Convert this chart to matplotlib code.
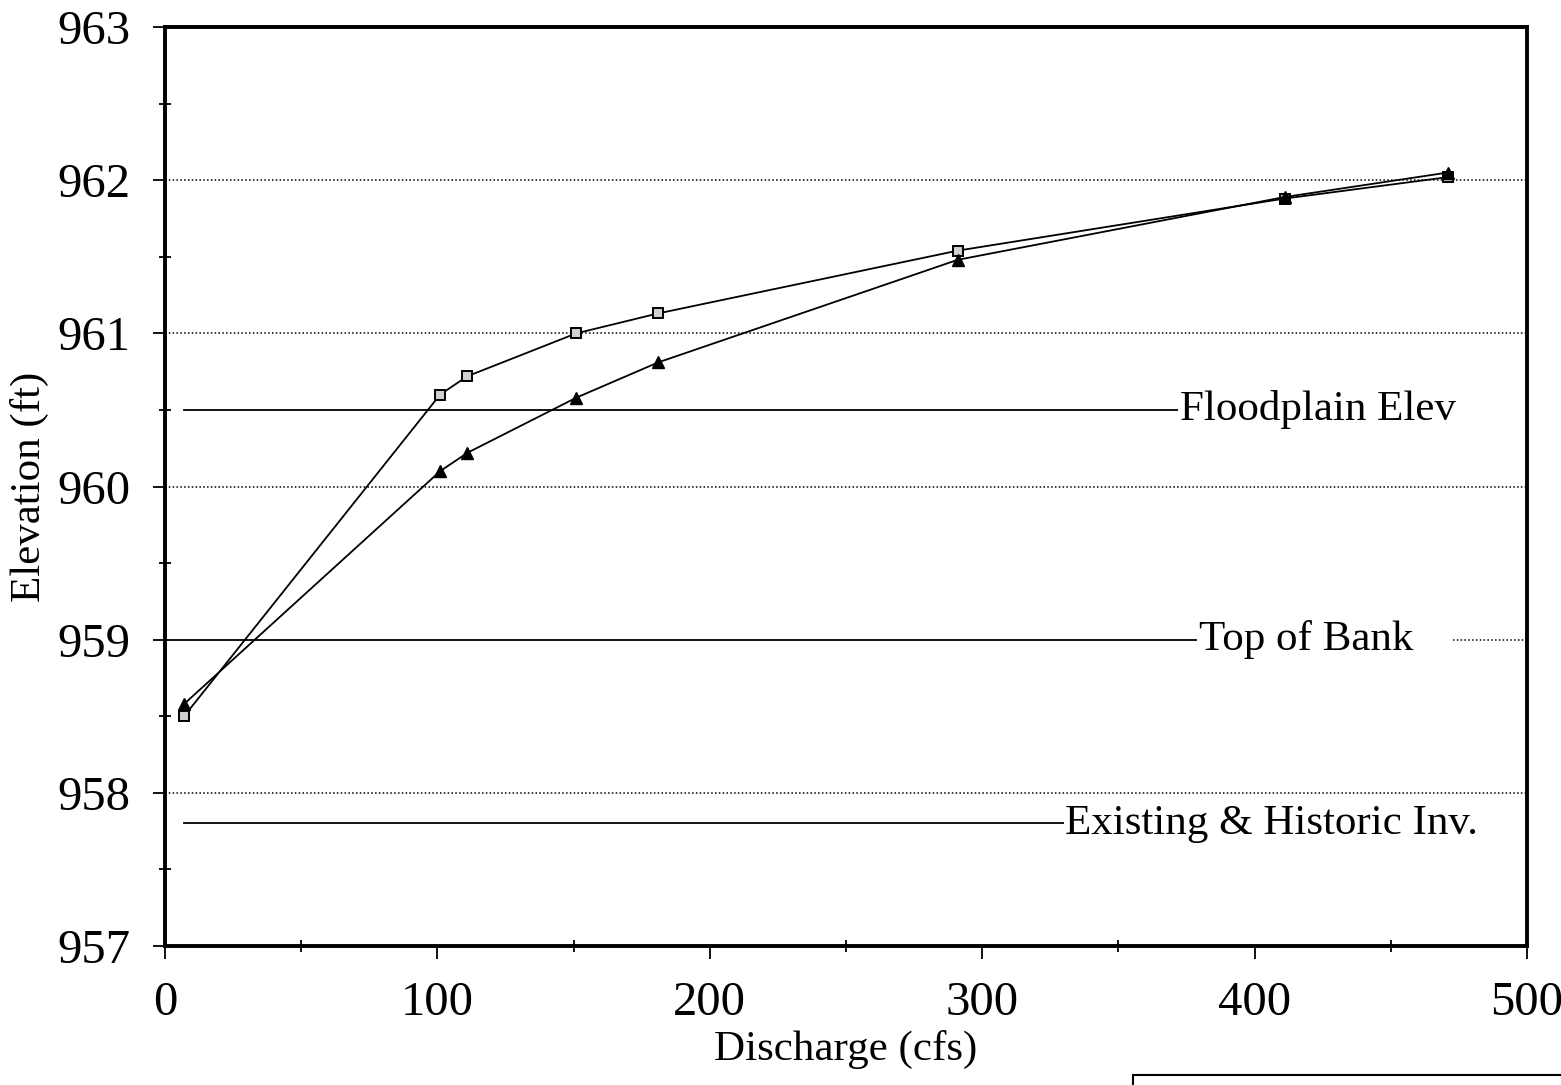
import matplotlib
matplotlib.use("Agg")
import matplotlib.pyplot as plt
from matplotlib.patches import Rectangle
from matplotlib.ticker import MultipleLocator

plt.rcParams['font.family'] = ['Liberation Serif', 'DejaVu Serif']

# Rating curves: discharge (cfs) vs water surface elevation (ft)
discharge = [7, 101, 111, 151, 181, 291, 411, 471]
elev_square = [958.50, 960.60, 960.72, 961.00, 961.13, 961.54, 961.88, 962.02]
elev_triangle = [958.58, 960.10, 960.22, 960.58, 960.81, 961.48, 961.89, 962.05]

# Reference elevations with their labels
ref_names = ["Floodplain Elev", "Top of Bank", "Existing & Historic Inv."]
ref_elev = [960.5, 959.0, 957.8]
ref_start = [7, 0, 7]
ref_end = [372, 379, 330]

x_ticks = [0, 100, 200, 300, 400, 500]
y_ticks = [957, 958, 959, 960, 961, 962, 963]

fig = plt.figure(figsize=(15.61, 10.85), dpi=100)
ax = fig.add_axes([0.1057, 0.1281, 0.8725, 0.8470])

ax.set_xlim(0, 500)
ax.set_ylim(957, 963)

# dotted horizontal grid at each whole foot; at the bank line only the
# stretch right of its label is shown
dot = (0, (1, 1.5))
for y in y_ticks[1:-1]:
    if y in ref_elev:
        ax.plot([473, 500], [y, y], color='black', lw=1.1, ls=dot, zorder=1)
    else:
        ax.axhline(y, color='black', lw=1.1, ls=dot, zorder=1)

# reference lines with labels
for name, y, x0, x1 in zip(ref_names, ref_elev, ref_start, ref_end):
    ax.plot([x0, x1], [y, y], color='black', lw=1.3, zorder=2)
    ax.text(x1 + 0.5, y, name, fontsize=31, va='center', ha='left',
            zorder=3, bbox=dict(facecolor='white', edgecolor='none', pad=1))

ax.plot(discharge, elev_square, color='black', lw=1.3, marker='s',
        markersize=7.5, markerfacecolor='#d0d0d0', markeredgecolor='black',
        markeredgewidth=1.4, zorder=4)
ax.plot(discharge, elev_triangle, color='black', lw=1.3, marker='^',
        markersize=8, markerfacecolor='black', markeredgecolor='black',
        zorder=4)

ax.set_xticks(x_ticks)
ax.set_yticks(y_ticks)
ax.xaxis.set_minor_locator(MultipleLocator(50))
ax.yaxis.set_minor_locator(MultipleLocator(0.5))
ax.tick_params(which='major', direction='out', length=9, width=1.3,
               labelsize=35)
ax.tick_params(axis='y', which='major', pad=16)
ax.tick_params(axis='x', which='major', pad=16)
ax.tick_params(which='minor', direction='inout', length=8, width=1.3)

for s in ax.spines.values():
    s.set_linewidth(2.8)

ax.set_xlabel("Discharge (cfs)", fontsize=31, labelpad=4)
ax.set_ylabel("Elevation (ft)", fontsize=31, labelpad=6)

# box at the lower right of the page
fig.patches.append(Rectangle((1133 / 1561, -0.01), 0.3, 10 / 1085 + 0.01,
                             transform=fig.transFigure, fill=False,
                             edgecolor='black', lw=1.5))

fig.savefig("out.png", dpi=100, facecolor='white')
